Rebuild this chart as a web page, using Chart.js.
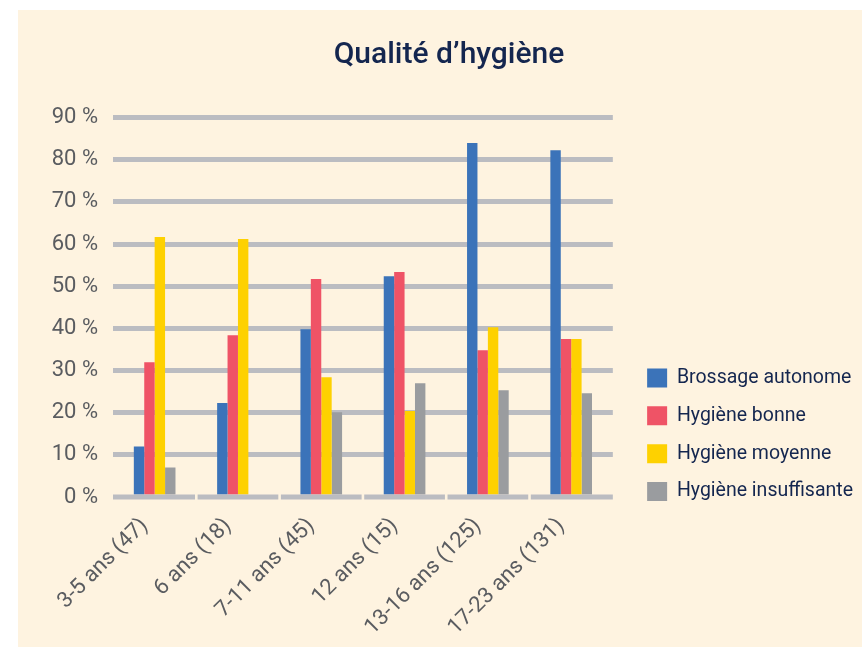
<!DOCTYPE html>
<html lang="fr">
<head>
<meta charset="utf-8">
<title>Qualité d’hygiène</title>
<script src="https://cdn.jsdelivr.net/npm/chart.js@4/dist/chart.umd.min.js"></script>
<style>
  html, body { margin: 0; padding: 0; background: #ffffff; }
  #box {
    position: absolute;
    left: 18px;
    top: 10px;
    width: 844px;
    height: 637px;
    background: #fef3e0;
  }
</style>
</head>
<body>
<div id="box"><canvas id="hygiene"></canvas></div>
<script>
// age groups (number of patients in brackets)
var ageGroups = ["3-5 ans (47)", "6 ans (18)", "7-11 ans (45)", "12 ans (15)", "13-16 ans (125)", "17-23 ans (131)"];

// percentages per age group
var brossageAutonome = [12, 22.3, 39.8, 52.4, 84, 82.3];
var hygieneBonne = [32, 38.4, 51.7, 53.4, 34.8, 37.5];
var hygieneMoyenne = [61.7, 61.2, 28.4, 20.4, 40.3, 37.5];
var hygieneInsuffisante = [7, 0, 20.1, 27, 25.3, 24.6];

var seriesNames = ["Brossage autonome", "Hygiène bonne", "Hygiène moyenne", "Hygiène insuffisante"];
var seriesColors = ["#3b73b9", "#ef5366", "#fed100", "#9a9c9f"];

var yTicks = [0, 10, 20, 30, 40, 50, 60, 70, 80, 90];

var gridColor = "#bbbcc1";
var tickTextColor = "#5a5c60";
var navy = "#14264f";

var allSeries = [brossageAutonome, hygieneBonne, hygieneMoyenne, hygieneInsuffisante];
var datasets = allSeries.map(function (values, i) {
    return {
        label: seriesNames[i],
        data: values,
        backgroundColor: seriesColors[i],
        borderWidth: 0,
        barPercentage: 1,
        categoryPercentage: 0.5
    };
});

// baseline at 0 % drawn over the bars, split at each category boundary
var baselinePlugin = {
    id: "baseline",
    afterDatasetsDraw: function (chart) {
        var ctx = chart.ctx;
        var x = chart.scales.x;
        var y = chart.scales.y;
        var y0 = y.getPixelForValue(0);
        var step = x.width / ageGroups.length;
        ctx.save();
        ctx.fillStyle = gridColor;
        for (var i = 0; i < ageGroups.length; i++) {
            var left = x.left + i * step + (i == 0 ? 0 : 1.3);
            var right = x.left + (i + 1) * step - (i == ageGroups.length - 1 ? 0 : 1.3);
            ctx.fillRect(left, y0 - 2.5, right - left, 5);
        }
        ctx.restore();
    }
};

// move the legend block next to the lower half of the plot
var legendPlacePlugin = {
    id: "legendPlace",
    afterLayout: function (chart) {
        var lg = chart.legend;
        var dx = chart.chartArea.right + 16 - lg.left;
        lg.left += dx;
        lg.right += dx;
        lg.top += 340;
        lg.bottom += 340;
    }
};

function drawChart() {
    var ctx = document.getElementById("hygiene").getContext("2d");
    return new Chart(ctx, {
        type: "bar",
        data: {
            labels: ageGroups,
            datasets: datasets
        },
        options: {
            responsive: true,
            maintainAspectRatio: false,
            animation: false,
            layout: {
                padding: { left: 33, right: 15, top: 0, bottom: 0 }
            },
            plugins: {
                title: {
                    display: true,
                    text: "Qualité d’hygiène",
                    color: navy,
                    font: { family: "Roboto", size: 30, weight: "500" },
                    padding: { top: 27, bottom: 44.7 }
                },
                legend: {
                    position: "right",
                    align: "start",
                    maxWidth: 300,
                    labels: {
                        boxWidth: 20,
                        boxHeight: 19,
                        padding: 18.3,
                        color: navy,
                        font: { family: "Roboto", size: 19.5 }
                    }
                },
                tooltip: { enabled: false }
            },
            scales: {
                x: {
                    grid: { display: false },
                    border: { display: false },
                    ticks: {
                        color: tickTextColor,
                        font: { family: "Roboto", size: 22 },
                        minRotation: 45,
                        maxRotation: 45,
                        padding: 8,
                        labelOffset: -10
                    },
                    afterFit: function (scale) { scale.height = 150; }
                },
                y: {
                    min: 0,
                    max: 90,
                    border: { display: false },
                    grid: {
                        drawTicks: false,
                        lineWidth: 5,
                        color: function (c) { return c.tick && c.tick.value === 0 ? "rgba(0,0,0,0)" : gridColor; }
                    },
                    afterBuildTicks: function (scale) {
                        scale.ticks = yTicks.map(function (v) { return { value: v }; });
                    },
                    ticks: {
                        color: tickTextColor,
                        font: { family: "Roboto", size: 22 },
                        padding: 15,
                        callback: function (v) { return v + " %"; }
                    },
                    afterFit: function (scale) { scale.width = 62; }
                }
            }
        },
        plugins: [baselinePlugin, legendPlacePlugin]
    });
}

// make sure Roboto is ready before the legend gets measured
Promise.all([
    document.fonts.load("19.5px Roboto"),
    document.fonts.load("500 30px Roboto"),
    document.fonts.load("22px Roboto")
]).then(drawChart, drawChart);
</script>
</body>
</html>
